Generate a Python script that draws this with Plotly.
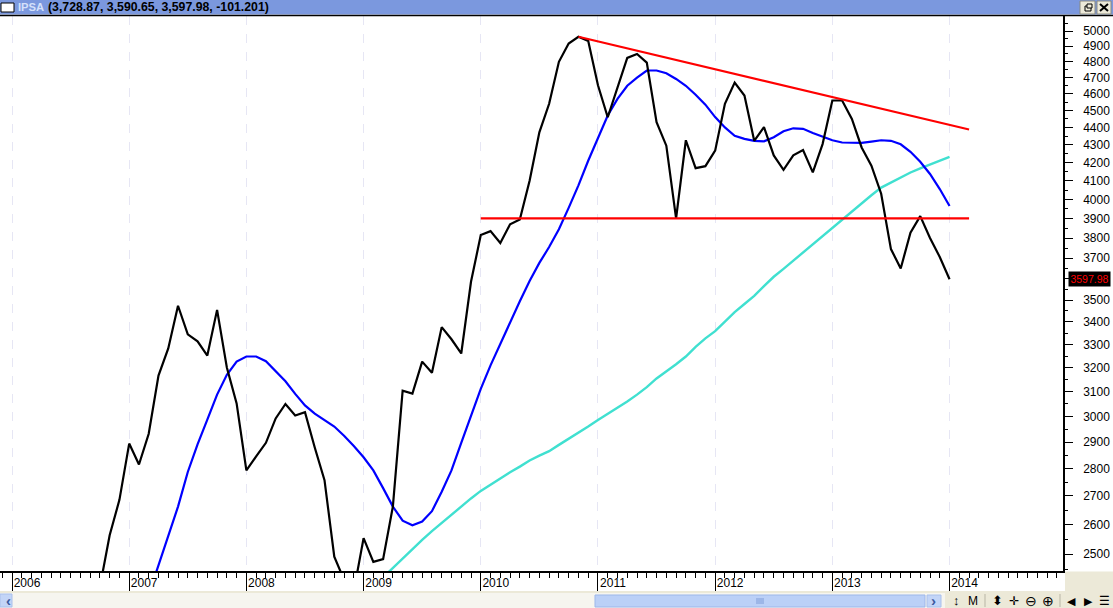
import math
import plotly.graph_objects as go

TITLE_NAME = "IPSA"
TITLE_VALUES = "(3,728.87, 3,590.65, 3,597.98, -101.201)"
YEARS = ["2006", "2007", "2008", "2009", "2010", "2011", "2012", "2013", "2014"]
Y_TICKS = list(range(2500, 5001, 100))
Y_MINOR = list(range(2450, 5101, 100))

# monthly closes, first value is 2006-10
close_start = 9
close = [2393, 2563, 2686,
         2894, 2815, 2932, 3167, 3283, 3474, 3345, 3314, 3252, 3455, 3201, 3052,
         2793, 2845, 2897, 2992, 3050, 3004, 3017, 2879, 2757, 2491, 2416, 2380,
         2553, 2474, 2483, 2662, 3104, 3092, 3226, 3179, 3377, 3323, 3261, 3586,
         3815, 3835, 3775, 3870, 3895, 4100, 4372, 4540, 4800, 4918, 4962, 4935,
         4653, 4460, 4635, 4825, 4850, 4795, 4431, 4295, 3900, 4326, 4169, 4180,
         4267, 4540, 4670, 4590, 4323, 4402, 4240, 4160, 4240, 4270, 4146, 4304,
         4560, 4560, 4450, 4285, 4183, 4030, 3745, 3650, 3827, 3912, 3800, 3706,
         3597.98]

# first value is 2007-03
ma_fast_start = 14
ma_fast = [2369, 2465, 2563, 2662, 2787, 2891, 2987, 3088, 3170, 3226,
           3248, 3248, 3228, 3187, 3143, 3091, 3044, 3011, 2984, 2960, 2924, 2885,
           2842, 2793, 2728, 2662, 2613, 2597, 2610, 2646, 2715, 2793, 2897, 3004,
           3112, 3210, 3305, 3400, 3495, 3590, 3677, 3755, 3845, 3955, 4075, 4210,
           4340, 4470, 4570, 4650, 4700, 4745, 4745, 4728, 4692, 4650, 4595, 4535,
           4461, 4400, 4352, 4334, 4322, 4320, 4343, 4378, 4395, 4392, 4368, 4346,
           4326, 4313, 4312, 4311, 4318, 4326, 4323, 4303, 4260, 4204, 4137, 4055,
           3965]

# first value is 2009-02
ma_slow_start = 37
ma_slow = [2394, 2424, 2454, 2487, 2517, 2547, 2577, 2605, 2636, 2662, 2691,
           2718, 2741, 2763, 2786, 2807, 2830, 2848, 2865, 2889, 2912, 2936, 2960,
           2986, 3010, 3035, 3060, 3088, 3119, 3155, 3183, 3215, 3248, 3290, 3327,
           3359, 3402, 3445, 3482, 3520, 3566, 3610, 3648, 3688, 3727, 3771, 3810,
           3852, 3895, 3937, 3982, 4022, 4063, 4090, 4120, 4145, 4168, 4188, 4210,
           4232]

# drawn trend lines: month index and level
trend_x = [58, 98]
trend_y = [4962, 4388]
support_x = [48, 98]
support_y = [3900, 3900]

W, H = 1113, 608
PL, PR, PT, PB = 0, 1063, 16, 571
MONTH_PX = 9.766
X0_PX = 12
DECADE_PX = 1737.0


def px(x):
    return (x - PL) / (PR - PL)


def py(y):
    return (PB - y) / (PB - PT)


def rect(x0, y0, x1, y1, fill, line=None):
    return dict(type="rect", xref="paper", yref="paper", x0=px(x0), x1=px(x1),
                y0=py(y1), y1=py(y0), fillcolor=fill,
                line=dict(color=line or fill, width=1 if line else 0), layer="above")


def seg(x0, y0, x1, y1, color="#000000", width=1):
    return dict(type="line", xref="paper", yref="paper", x0=px(x0), x1=px(x1),
                y0=py(y0), y1=py(y1), line=dict(color=color, width=width), layer="above")


def label(x, y, text, size=12, color="#000000", family="Liberation Sans", anchor="left", **kw):
    return dict(xref="paper", yref="paper", x=px(x), y=py(y), text=text, showarrow=False,
                xanchor=anchor, yanchor="middle", font=dict(size=size, color=color, family=family),
                borderpad=0, **kw)


fig = go.Figure()


def add_line(start, vals, color, width):
    fig.add_trace(go.Scatter(x=list(range(start, start + len(vals))), y=vals, mode="lines",
                             line=dict(color=color, width=width, shape="linear"),
                             hoverinfo="skip", showlegend=False))


add_line(ma_slow_start, ma_slow, "#40E0D0", 2.4)
add_line(ma_fast_start, ma_fast, "#0000FF", 2.2)
add_line(close_start, close, "#000000", 2.2)
fig.add_trace(go.Scatter(x=support_x, y=support_y, mode="lines", line=dict(color="#FF0000", width=2.2),
                         hoverinfo="skip", showlegend=False))
fig.add_trace(go.Scatter(x=trend_x, y=trend_y, mode="lines", line=dict(color="#FF0000", width=2.2),
                         hoverinfo="skip", showlegend=False))

shapes = [
    # title bar
    rect(0, 0, W, 14.5, "#7B98DE"),
    seg(0, 15.5, W, 15.5, "#000000", 1.5),
    rect(1, 3, 14, 12, "#FFFFFF", "#000000"),
    # window buttons
    rect(1080, 1, 1095, 14, "#ECE9D8", "#8A8A80"),
    rect(1097, 1, 1111, 14, "#ECE9D8", "#8A8A80"),
    rect(1085, 6, 1091, 11, "#ECE9D8", "#000000"),
    rect(1087, 4, 1092, 8, "#ECE9D8", "#000000"),
    seg(1100, 4, 1108, 11, "#000000", 2),
    seg(1108, 4, 1100, 11, "#000000", 2),
    # right-hand and bottom panels
    rect(1065, 571.5, W, H, "#ECE9D8"),
    rect(0, 591, 945, 593, "#ECE9D8"),
    rect(0, 593, 945, H, "#F6F5EF"),
    rect(945, 591, W, H, "#ECE9D8"),
    rect(0, 594, 12, 607, "#C3D5F7", "#A9C0EC"),
    rect(595, 595, 925, 607, "#BBD0F7", "#9DB7EA"),
    rect(927, 595, 941, 607, "#C3D5F7", "#A9C0EC"),
    seg(757, 598, 757, 604, "#7F9CD8"),
    seg(759, 598, 759, 604, "#7F9CD8"),
    seg(761, 598, 761, 604, "#7F9CD8"),
    seg(763, 598, 763, 604, "#7F9CD8"),
    seg(985, 594, 985, 607, "#B8B5A5"),
    seg(1060, 594, 1060, 607, "#B8B5A5"),
]

anns = [
    label(16.5, 7, f"<b>{TITLE_NAME}</b>", size=11.2, color="#D5E1FA"),
    label(46.5, 7, f"<b>{TITLE_VALUES}</b>", size=12.3),
    label(5, 601, "<b>‹</b>", size=15, color="#3C5AA0"),
    label(930, 601, "<b>›</b>", size=15, color="#3C5AA0"),
    label(956, 601, "↕", size=13, anchor="center"),
    label(973, 601, "M", size=12, anchor="center"),
    label(997, 601, "⬍", size=13, anchor="center"),
    label(1014, 601, "✛", size=12, anchor="center"),
    label(1031, 601, "⊖", size=14, anchor="center"),
    label(1048, 601, "⊕", size=14, anchor="center"),
    label(1071, 601, "◀", size=11, anchor="center"),
    label(1088, 601, "▶", size=11, anchor="center"),
    label(1104, 601, "☰", size=12, anchor="center"),
    dict(xref="paper", yref="y", x=px(1068), y=math.log10(close[-1]), text=f"{close[-1]:.2f}",
         showarrow=False, xanchor="left", yanchor="middle", bgcolor="#000000",
         width=41, height=14, align="center", borderpad=0,
         font=dict(size=10.5, color="#FF0000", family="Liberation Sans")),
]

year_ticks = [12 * i for i in range(len(YEARS))]
y_text = ["" if v == 3600 else str(v) for v in Y_TICKS]

fig.update_layout(
    width=W, height=H, autosize=False,
    margin=dict(l=PL, r=W - PR, t=PT, b=H - PB, pad=0),
    paper_bgcolor="#FFFFFF", plot_bgcolor="#FFFFFF", showlegend=False,
    shapes=shapes, annotations=anns,
    xaxis=dict(
        type="linear",
        range=[(PL - X0_PX) / MONTH_PX, (PR - X0_PX) / MONTH_PX],
        tickmode="array", tickvals=year_ticks, ticktext=YEARS,
        showgrid=True, gridcolor="#E6E6F4", griddash="dash", gridwidth=1,
        showline=True, linecolor="#000000", linewidth=1.5, zeroline=False,
        ticks="outside", ticklen=19, tickwidth=1, tickcolor="#000000",
        ticklabelshift=15, ticklabelstandoff=-19,
        tickfont=dict(size=12, color="#000000", family="Liberation Sans"),
        minor=dict(tickmode="linear", tick0=0, dtick=1, ticks="outside", ticklen=5,
                   tickwidth=1, tickcolor="#000000", showgrid=False),
    ),
    yaxis=dict(
        type="log", side="right",
        range=[math.log10(2500) - (PB - 554) / DECADE_PX, math.log10(5000) + (31 - PT) / DECADE_PX],
        tickmode="array", tickvals=Y_TICKS, ticktext=y_text,
        showgrid=False, zeroline=False,
        showline=True, linecolor="#000000", linewidth=1.5,
        ticks="outside", ticklen=8, tickwidth=1, tickcolor="#000000",
        ticklabelstandoff=8,
        tickfont=dict(size=12, color="#000000", family="Liberation Sans"),
        minor=dict(tickmode="array", tickvals=Y_MINOR, ticks="outside", ticklen=3,
                   tickwidth=1, tickcolor="#000000", showgrid=False),
    ),
)

fig.write_html("out.html", config={"displayModeBar": False},
               post_script="document.body.style.margin='0';document.body.style.overflow='hidden';")
